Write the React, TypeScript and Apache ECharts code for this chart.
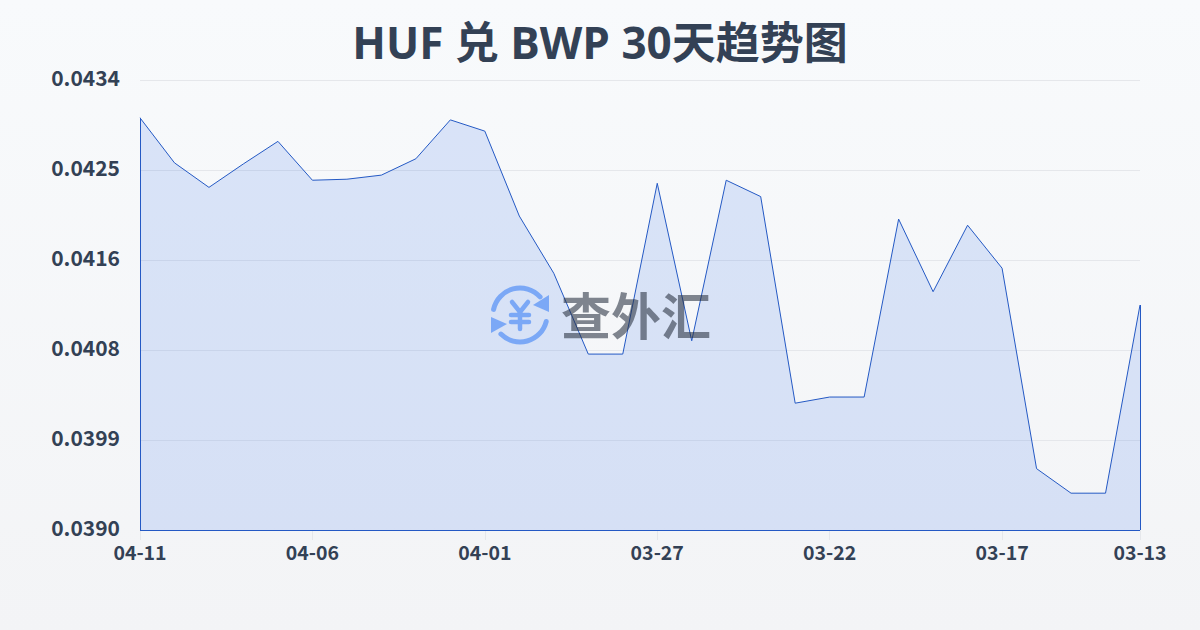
import React, { useEffect, useRef } from "react";
import * as echarts from "echarts";

const titleText = "HUF 兑 BWP 30天趋势图";
const watermarkText = "查外汇";
const dates = [
  "04-11","04-10","04-09","04-08","04-07","04-06","04-05","04-04","04-03","04-02",
  "04-01","03-31","03-30","03-29","03-28","03-27","03-26","03-25","03-24","03-23",
  "03-22","03-21","03-20","03-19","03-18","03-17","03-16","03-15","03-14","03-13",
];
const rates = [
  0.04303,0.04259,0.04235,0.04258,0.0428,0.04242,0.04243,0.04247,0.04263,0.04301,
  0.0429,0.04207,0.04151,0.04072,0.04072,0.04239,0.04085,0.04242,0.04226,0.04024,
  0.0403,0.0403,0.04204,0.04133,0.04198,0.04156,0.0396,0.03936,0.03936,0.0412,
];
const yTicks = [0.039, 0.03988, 0.04076, 0.04164, 0.04252, 0.0434];
const xLabelIdx = [0, 5, 10, 15, 20, 25, 29];

const LINE = "#2459c4";
const INK = "#334155";
const LOGO = "#8ab4f8";
const TITLE_FONT = "'Open Sans','Noto Sans CJK SC',sans-serif";
const TICK_FONT = "'Noto Sans CJK SC',sans-serif";

export default function App() {
  const ref = useRef<HTMLDivElement>(null);
  useEffect(() => {
    const chart = echarts.init(ref.current!, null, { renderer: "svg" });
    const ln = (a: number[], b: number[]) => ({
      type: "line",
      silent: true,
      shape: { x1: a[0], y1: a[1], x2: b[0], y2: b[1] },
      style: { stroke: LOGO, lineWidth: 4.5, lineCap: "round" },
    });
    const last = rates.length - 1;
    const base = yTicks[0];
    chart.setOption({
      animation: false,
      backgroundColor: {
        type: "linear", x: 0, y: 0, x2: 0, y2: 1,
        colorStops: [{ offset: 0, color: "#f8fafc" }, { offset: 1, color: "#f3f4f6" }],
      },
      title: {
        text: titleText,
        left: "center",
        top: 15,
        textStyle: { color: INK, fontSize: 44, fontWeight: "bold", fontFamily: TITLE_FONT },
      },
      grid: { left: 140, right: 60, top: 80, bottom: 100 },
      xAxis: {
        type: "category",
        data: dates,
        boundaryGap: false,
        axisLine: { show: false },
        axisTick: { show: true, length: 10, lineStyle: { color: "#e5e7eb" }, customValues: xLabelIdx },
        axisLabel: {
          customValues: xLabelIdx,
          color: INK, fontSize: 19.5, fontWeight: "bold", margin: 12,
          fontFamily: TICK_FONT,
        },
        splitLine: { show: false },
      },
      yAxis: {
        type: "value",
        min: yTicks[0],
        max: yTicks[yTicks.length - 1],
        axisLine: { show: false },
        axisTick: { show: false, customValues: yTicks },
        axisLabel: {
          customValues: yTicks,
          color: INK, fontSize: 21, fontWeight: "bold", margin: 20,
          fontFamily: TICK_FONT,
          verticalAlign: "bottom",
          lineHeight: 6,
          formatter: (v: number) => v.toFixed(4),
        },
        splitLine: { show: true, lineStyle: { color: "#e5e7eb", width: 1 } },
      },
      graphic: [
        { type: "arc", silent: true, shape: { cx: 520, cy: 315, r: 27, startAngle: (192 * Math.PI) / 180, endAngle: (318 * Math.PI) / 180 }, style: { stroke: LOGO, fill: "none", lineWidth: 5, lineCap: "round" } },
        { type: "arc", silent: true, shape: { cx: 520, cy: 315, r: 27, startAngle: (14 * Math.PI) / 180, endAngle: (135 * Math.PI) / 180 }, style: { stroke: LOGO, fill: "none", lineWidth: 5, lineCap: "round" } },
        { type: "polygon", silent: true, shape: { points: [[549, 295], [549, 312], [533, 305]] }, style: { fill: LOGO } },
        { type: "polygon", silent: true, shape: { points: [[491, 317], [491, 333], [507, 324]] }, style: { fill: LOGO } },
        ln([512, 302], [520, 312]),
        ln([528, 302], [520, 312]),
        ln([511, 315], [529, 315]),
        ln([511, 322], [529, 322]),
        ln([520, 312], [520, 329]),
        {
          type: "text",
          silent: true,
          z: 100,
          x: 561,
          y: 313,
          style: {
            text: watermarkText,
            fill: "rgba(40,48,64,0.58)",
            font: "bold 50px 'Noto Sans CJK SC'",
            textVerticalAlign: "middle",
            verticalAlign: "middle",
          },
        },
      ],
      series: [
        {
          type: "line",
          data: rates,
          symbol: "none",
          smooth: false,
          lineStyle: { color: LINE, width: 1 },
          areaStyle: { color: "rgba(37,99,235,0.14)", opacity: 1 },
          markLine: {
            silent: true,
            symbol: "none",
            label: { show: false },
            lineStyle: { color: LINE, width: 1, type: "solid" },
            data: [
              [{ coord: [0, base] }, { coord: [0, rates[0]] }],
              [{ coord: [0, base] }, { coord: [last, base] }],
              [{ coord: [last, base] }, { coord: [last, rates[last]] }],
            ],
          },
        },
      ],
    });
    return () => chart.dispose();
  }, []);
  return <div ref={ref} style={{ position: "fixed", left: 0, top: 0, width: 1200, height: 630 }} />;
}
